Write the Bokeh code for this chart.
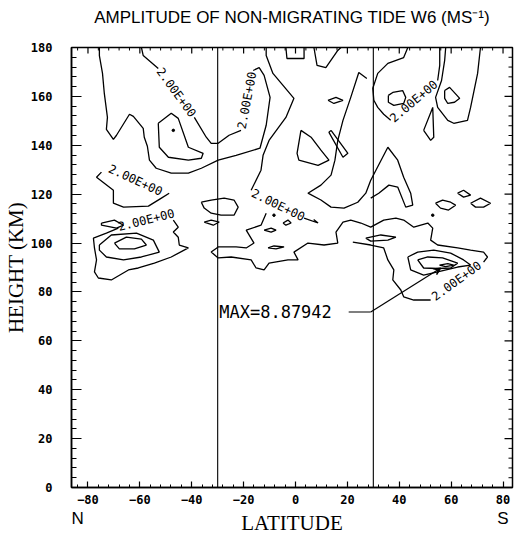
from bokeh.plotting import figure
from bokeh.models import (Range1d, LinearAxis, SingleIntervalTicker, FixedTicker, Label,
                          Arrow, VeeHead, ColumnDataSource, CustomJSTickFormatter)
from bokeh.core.properties import value
from bokeh.embed import file_html
from bokeh.resources import INLINE

# ---------------------------------------------------------------------------
# Contour polylines of the W6 amplitude field (latitude in deg, height in km)
# ---------------------------------------------------------------------------
north_band_a_lat = [-59.4, -58.7, -52.9]
north_band_a_h = [180.0, 176.7, 171.4]
north_band_b_lat = [-39.0, -34.4, -32.5, -29.8, -25.6, -21.0]
north_band_b_h = [151.4, 143.3, 140.8, 140.8, 144.1, 146.1]
north_band_c_lat = [-16.3, -14.0, -12.1, -9.8, -11.3, -13.7, -22.9, -29.8, -36.3, -41.3,
                    -47.9, -53.7, -56.3, -57.1, -58.3, -58.7, -62.5, -64.0, -69.0, -70.2,
                    -72.9, -72.5, -73.7, -74.4, -75.6, -75.6]
north_band_c_h = [170.6, 171.8, 168.6, 159.6, 148.2, 138.8, 135.9, 133.9, 130.6, 128.6,
                  128.6, 130.6, 133.9, 139.6, 143.3, 146.9, 151.8, 152.7, 144.1, 142.4,
                  146.5, 151.4, 161.2, 169.4, 176.7, 180.0]
north_inner_lat = [-52.9, -47.9, -45.2, -41.3, -35.6, -36.3, -41.3, -49.0, -52.5, -52.9]
north_inner_h = [149.0, 153.1, 151.0, 139.2, 136.7, 134.7, 133.9, 135.1, 139.2, 149.0]

centre_arm_lat = [-11.3, -11.3, -8.7, -0.6, -3.7, -10.2, -12.5, -13.3, -17.1]
centre_arm_h = [180.0, 176.7, 169.4, 159.2, 151.4, 142.0, 135.9, 129.8, 121.6]
centre_arm_tail_lat = [3.3, 8.7, 7.0]
centre_arm_tail_h = [110.2, 108.2, 109.6]

top_bump_a_lat = [-3.7, -3.3, 3.3, 3.3]
top_bump_a_h = [180.0, 175.5, 175.5, 180.0]
top_bump_b_lat = [7.1, 8.3, 11.7, 16.3, 17.5]
top_bump_b_h = [180.0, 172.7, 171.8, 178.8, 180.0]

centre_diamond_lat = [12.5, 15.6, 18.3, 14.8, 12.5]
centre_diamond_h = [158.4, 159.6, 158.4, 157.1, 158.4]
centre_triangle_lat = [2.1, 6.0, 9.8, 12.9, 8.7, 1.3, 0.6, 2.1]
centre_triangle_h = [146.1, 143.3, 138.0, 133.9, 131.8, 133.9, 136.7, 146.1]
centre_sliver_lat = [13.7, 20.2, 18.3, 12.9, 13.7]
centre_sliver_h = [146.1, 136.7, 135.1, 145.3, 146.1]

east_ridge_lat = [27.5, 24.4, 21.3, 18.3, 16.3, 15.2, 13.7, 9.8, 4.8, 9.8, 13.7, 18.7,
                  24.0, 27.1, 29.0, 31.0, 35.6, 39.4, 41.7, 44.4, 45.2, 42.5, 39.4, 36.0,
                  32.1, 29.0]
east_ridge_h = [167.3, 169.8, 159.6, 150.2, 142.0, 133.9, 127.8, 123.7, 120.4, 117.6,
                114.7, 114.3, 116.7, 120.4, 125.7, 129.8, 139.2, 133.9, 126.9, 120.4,
                115.5, 114.7, 122.9, 123.7, 120.4, 118.4]

south_arm_a_lat = [43.3, 41.7, 35.6, 31.7, 29.8, 30.2, 31.7, 34.0, 36.7]
south_arm_a_h = [180.0, 175.9, 173.5, 169.4, 163.3, 158.4, 155.5, 152.7, 150.2]
south_arm_b_lat = [54.8, 55.6, 55.6]
south_arm_b_h = [166.5, 172.7, 180.0]
south_cup_lat = [71.3, 70.2, 67.5, 66.3, 61.0, 58.7, 54.8, 54.0, 56.3, 57.5, 57.9]
south_cup_h = [180.0, 169.4, 155.5, 150.2, 149.0, 150.2, 155.5, 159.6, 166.5, 174.7, 180.0]

south_loop_a_lat = [35.8, 37.5, 41.3, 42.5, 41.7, 37.9, 35.8, 35.8]
south_loop_a_h = [160.4, 161.6, 162.4, 159.6, 157.1, 156.3, 157.6, 160.4]
south_loop_b_lat = [57.5, 59.4, 63.3, 61.3, 58.7, 57.5, 57.5]
south_loop_b_h = [162.4, 163.7, 159.2, 157.6, 157.1, 159.2, 162.4]
south_spike_lat = [49.4, 52.9, 53.3, 52.1, 49.4]
south_spike_h = [146.1, 155.5, 143.3, 142.0, 146.1]

diamond_a_lat = [54.0, 56.7, 59.8, 61.7, 59.0, 55.9, 54.0]
diamond_a_h = [116.3, 117.6, 116.7, 115.5, 113.5, 114.3, 116.3]
diamond_b_lat = [62.5, 64.8, 67.5, 64.8, 62.5]
diamond_b_h = [120.4, 121.6, 119.6, 118.8, 120.4]
diamond_c_lat = [67.5, 71.3, 75.2, 72.5, 69.4, 67.5]
diamond_c_h = [116.3, 118.4, 116.3, 114.7, 114.7, 116.3]

# long equatorial band running into the southern maximum
band_upper_lat = [-11.3, -13.3, -19.0, -16.0, -19.0, -22.9, -29.8, -32.5, -29.8, -24.8,
                  -17.1, -15.2, -12.1, -10.2, -2.9, 1.0, -0.6, 4.8, 11.0, 16.3, 15.6,
                  18.3, 21.3, 25.2, 29.0, 34.0, 38.7, 41.7, 45.6, 51.0, 52.9, 52.1, 54.8,
                  62.5, 67.5, 72.5, 74.0, 72.5]
band_upper_h = [112.2, 107.3, 105.3, 100.0, 98.0, 98.4, 98.4, 96.3, 93.9, 94.3,
                93.1, 89.8, 89.0, 91.8, 93.1, 93.1, 96.3, 100.0, 99.2, 100.0, 104.5,
                108.6, 109.4, 108.2, 106.5, 109.4, 110.2, 109.4, 106.5, 108.2, 106.1,
                101.2, 99.2, 98.0, 97.1, 96.3, 94.3, 92.2]
band_lower_lat = [52.1, 45.6, 41.7, 40.6, 37.5, 37.9, 35.6, 34.0, 29.0, 22.1]
band_lower_h = [76.7, 76.7, 78.0, 80.8, 84.9, 89.0, 93.1, 98.0, 99.2, 100.4]
band_sliver_lat = [27.1, 32.9, 38.7, 35.6, 29.0, 27.1]
band_sliver_h = [102.0, 103.3, 102.4, 101.2, 100.8, 102.0]

south_max_a_lat = [43.3, 47.1, 53.3, 59.8, 64.8, 67.5, 62.5, 54.8, 49.4, 44.4, 43.3]
south_max_a_h = [94.3, 96.3, 97.1, 95.9, 93.1, 91.0, 90.2, 88.2, 86.9, 89.0, 94.3]
south_max_b_lat = [47.1, 51.0, 56.7, 62.5, 59.8, 54.8, 49.4, 47.1]
south_max_b_h = [93.1, 94.3, 93.9, 91.8, 89.8, 89.6, 89.8, 93.1]
south_max_c_lat = [55.5, 58.7, 61.0, 57.9, 55.5]
south_max_c_h = [91.0, 91.6, 91.0, 90.4, 91.0]

north_max_outer_lat = [-68.3, -72.9, -77.9, -77.5, -76.7, -77.5, -76.0, -71.0, -64.4, -60.6,
                       -54.4, -47.9, -41.3, -44.8, -45.2, -47.1, -45.2, -47.1]
north_max_outer_h = [106.1, 104.1, 102.0, 98.0, 93.1, 88.2, 85.7, 84.9, 89.0, 89.8,
                     91.8, 94.3, 98.0, 99.2, 102.4, 104.5, 106.5, 109.4]
north_max_a_lat = [-75.6, -71.0, -61.3, -54.8, -52.5, -59.4, -66.3, -72.9, -75.6, -75.6]
north_max_a_h = [99.2, 103.3, 104.1, 101.2, 96.3, 94.3, 93.1, 94.3, 97.1, 99.2]
north_max_b_lat = [-69.8, -65.2, -59.4, -57.5, -62.1, -67.9, -69.8]
north_max_b_h = [100.0, 102.4, 101.6, 99.2, 97.6, 97.6, 100.0]
north_chip_lat = [-74.8, -69.8, -66.3, -69.0, -74.8, -74.8]
north_chip_h = [108.2, 109.4, 107.3, 106.1, 107.3, 108.2]
north_lobe_lat = [-74.8, -76.7, -73.7, -70.2, -70.2, -66.3, -56.7, -51.7, -48.7]
north_lobe_h = [129.0, 126.9, 124.5, 121.6, 116.3, 114.7, 115.1, 118.4, 120.4]

edge_loop_a_lat = [-36.3, -32.5, -27.5, -23.7, -22.1, -23.7, -28.7, -32.5, -35.2, -36.3]
edge_loop_a_h = [116.7, 117.6, 118.4, 117.6, 114.7, 111.4, 111.4, 112.2, 114.3, 116.7]
edge_loop_b_lat = [-35.2, -32.5, -29.4, -31.7, -35.2]
edge_loop_b_h = [108.6, 109.4, 108.6, 107.3, 108.6]
speck_a_lat = [-4.8, -2.9, -1.7, -3.7, -4.8]
speck_a_h = [108.2, 109.4, 108.2, 107.3, 108.2]
speck_b_lat = [-12.1, -9.4, -7.5, -9.4, -12.1]
speck_b_h = [105.3, 106.1, 105.3, 104.5, 105.3]
speck_c_lat = [-10.6, -8.3, -4.4, -7.5, -10.6]
speck_c_h = [98.0, 98.8, 98.4, 97.6, 98.0]

# contour labels: position, rotation (deg)
label_lat = [-46.0, -18.7, -6.7, 45.6, 62.1, -57.5, -61.7]
label_h = [161.6, 158.4, 115.5, 158.0, 84.5, 109.4, 125.7]
label_angle = [-54, 79, -26, 40, 36, 14, -25]
contour_level = 2.0

# grid points marked as local extrema
dot_lat = [-47.1, -8.3, 52.9]
dot_h = [146.1, 111.4, 111.4]

# location and value of the maximum
max_lat, max_h = 56.0, 89.8
max_value = 8.87942
max_text_lat, max_text_h = -29.4, 71.8
max_elbow_lat = [20.5, 29.0]

separators = [-30, 30]

# hemisphere markers under the latitude axis
hemisphere_ticks = [-84, 80]
hemisphere_names = ["N", "S"]

title_text = "AMPLITUDE OF NON-MIGRATING TIDE W6 (MS\u207b\u00b9)"

contour_lats = [north_band_a_lat, north_band_b_lat, north_band_c_lat, north_inner_lat,
                centre_arm_lat, centre_arm_tail_lat, top_bump_a_lat, top_bump_b_lat,
                centre_diamond_lat, centre_triangle_lat, centre_sliver_lat, east_ridge_lat,
                south_arm_a_lat, south_arm_b_lat, south_cup_lat, south_loop_a_lat,
                south_loop_b_lat, south_spike_lat, diamond_a_lat, diamond_b_lat,
                diamond_c_lat, band_upper_lat, band_lower_lat, band_sliver_lat,
                south_max_a_lat, south_max_b_lat, south_max_c_lat, north_max_outer_lat,
                north_max_a_lat, north_max_b_lat, north_chip_lat, north_lobe_lat,
                edge_loop_a_lat, edge_loop_b_lat, speck_a_lat, speck_b_lat, speck_c_lat]
contour_hs = [north_band_a_h, north_band_b_h, north_band_c_h, north_inner_h,
              centre_arm_h, centre_arm_tail_h, top_bump_a_h, top_bump_b_h,
              centre_diamond_h, centre_triangle_h, centre_sliver_h, east_ridge_h,
              south_arm_a_h, south_arm_b_h, south_cup_h, south_loop_a_h,
              south_loop_b_h, south_spike_h, diamond_a_h, diamond_b_h,
              diamond_c_h, band_upper_h, band_lower_h, band_sliver_h,
              south_max_a_h, south_max_b_h, south_max_c_h, north_max_outer_h,
              north_max_a_h, north_max_b_h, north_chip_h, north_lobe_h,
              edge_loop_a_h, edge_loop_b_h, speck_a_h, speck_b_h, speck_c_h]

# ---------------------------------------------------------------------------
lat_lo, lat_hi = -86.35, 83.65
h_lo, h_hi = 0, 180

p = figure(width=516, height=537, output_backend="svg", toolbar_location=None,
           x_range=Range1d(lat_lo, lat_hi), y_range=Range1d(h_lo, h_hi),
           min_border_left=70, min_border_right=4, min_border_top=47,
           min_border_bottom=49)
p.grid.visible = False
p.outline_line_color = "black"
p.outline_line_width = 1.5
p.background_fill_color = "white"
p.border_fill_color = "white"

tick_font = "DejaVu Sans Mono"


def style_ticks(ax, major_in, minor_in):
    ax.major_tick_in = major_in
    ax.major_tick_out = 0
    ax.minor_tick_in = minor_in
    ax.minor_tick_out = 0
    ax.axis_line_color = "black"
    ax.axis_line_width = 1.5
    ax.major_tick_line_color = "black"
    ax.minor_tick_line_color = "black"
    ax.major_tick_line_width = 1.2
    ax.minor_tick_line_width = 1.0


def style_labels(ax, standoff):
    ax.major_label_text_font = tick_font
    ax.major_label_text_font_style = "bold"
    ax.major_label_text_font_size = "12px"
    ax.major_label_text_color = "black"
    ax.major_label_standoff = standoff


lat_step, h_step, minor_div = 20, 20, 5
p.xaxis.ticker = SingleIntervalTicker(interval=lat_step, num_minor_ticks=minor_div)
p.yaxis.ticker = SingleIntervalTicker(interval=h_step, num_minor_ticks=minor_div)
style_ticks(p.xaxis[0], 6, 3)
style_labels(p.xaxis[0], 7)
style_ticks(p.yaxis[0], 10, 5)
style_labels(p.yaxis[0], 19)

p.yaxis.axis_label = "HEIGHT (KM)"
p.yaxis.axis_label_text_font = "Liberation Serif"
p.yaxis.axis_label_text_font_size = "21px"
p.yaxis.axis_label_text_font_style = "normal"
p.yaxis.axis_label_text_color = "black"
p.yaxis.axis_label_standoff = 0

# chart title carried by an unmarked axis along the upper edge
top_axis = LinearAxis(ticker=FixedTicker(ticks=[], minor_ticks=[]),
                      formatter=CustomJSTickFormatter(code="return ''"))
top_axis.axis_line_alpha = 0
top_axis.major_tick_in = 0
top_axis.major_tick_out = 0
top_axis.minor_tick_in = 0
top_axis.minor_tick_out = 0
top_axis.major_label_standoff = 0
top_axis.axis_label = title_text
top_axis.axis_label_text_font = "Liberation Sans"
top_axis.axis_label_text_font_size = "17px"
top_axis.axis_label_text_font_style = "normal"
top_axis.axis_label_text_color = "black"
top_axis.axis_label_standoff = 21
p.add_layout(top_axis, "above")

# tick marks along the upper and right frame edges
lat_major = [v for v in range(-80, 81, lat_step)]
lat_minor = [v for v in range(-84, 84, lat_step // minor_div) if v % lat_step]
h_major = [v for v in range(h_lo, h_hi + 1, h_step)]
h_minor = [v for v in range(h_lo, h_hi + 1, h_step // minor_div) if v % h_step]
px_lat = (lat_hi - lat_lo) / 442.0   # degrees per screen pixel
px_h = (h_hi - h_lo) / 441.0         # km per screen pixel
p.segment(x0=lat_major, x1=lat_major, y0=[h_hi] * len(lat_major),
          y1=[h_hi - 6 * px_h] * len(lat_major), line_color="black", line_width=1.2)
p.segment(x0=lat_minor, x1=lat_minor, y0=[h_hi] * len(lat_minor),
          y1=[h_hi - 3 * px_h] * len(lat_minor), line_color="black", line_width=1.0)
p.segment(x0=[lat_hi] * len(h_major), x1=[lat_hi - 8 * px_lat] * len(h_major),
          y0=h_major, y1=h_major, line_color="black", line_width=1.2)
p.segment(x0=[lat_hi] * len(h_minor), x1=[lat_hi - 4 * px_lat] * len(h_minor),
          y0=h_minor, y1=h_minor, line_color="black", line_width=1.0)

# hemisphere letters and the latitude title on a second row below the numbers
hemi_axis = LinearAxis(ticker=FixedTicker(ticks=hemisphere_ticks, minor_ticks=[]),
                       major_label_overrides=dict(zip(hemisphere_ticks, hemisphere_names)))
hemi_axis.axis_line_alpha = 0
hemi_axis.major_tick_in = 0
hemi_axis.major_tick_out = 0
hemi_axis.major_label_standoff = 2
hemi_axis.major_label_text_font = "Liberation Sans"
hemi_axis.major_label_text_font_size = "17px"
hemi_axis.major_label_text_color = "black"
hemi_axis.axis_label = "LATITUDE"
hemi_axis.axis_label_text_font = "Liberation Serif"
hemi_axis.axis_label_text_font_size = "21px"
hemi_axis.axis_label_text_font_style = "normal"
hemi_axis.axis_label_text_color = "black"
hemi_axis.axis_label_standoff = -20
p.add_layout(hemi_axis, "below")

# equatorial region separators
for lat in separators:
    p.line([lat, lat], [h_lo, h_hi], line_color="black", line_width=1.1)

# contours
p.multi_line(xs=contour_lats, ys=contour_hs, line_color="black", line_width=1.3)

label_src = ColumnDataSource(dict(
    x=label_lat, y=label_h, angle=label_angle,
    text=["%.2E" % contour_level] * len(label_lat)))
p.text(x="x", y="y", text="text", angle="angle", angle_units="deg", source=label_src,
       text_font=value(tick_font), text_font_size="12px", text_align="center",
       text_baseline="middle", text_color="black")

p.scatter(dot_lat, dot_h, size=2.5, color="black")

# maximum marker
p.line([max_elbow_lat[0], max_elbow_lat[1]], [max_text_h, max_text_h],
       line_color="black", line_width=1.2)
p.add_layout(Arrow(end=VeeHead(size=7, line_color="black", line_width=1.2),
                   x_start=max_elbow_lat[1], y_start=max_text_h,
                   x_end=max_lat, y_end=max_h, line_color="black", line_width=1.2))
p.add_layout(Label(x=max_text_lat, y=max_text_h, text="MAX=%.5f" % max_value,
                   text_font=tick_font, text_font_size="17px", text_align="left",
                   text_baseline="middle", text_color="black"))

open("out.html", "w").write(file_html(p, INLINE))
